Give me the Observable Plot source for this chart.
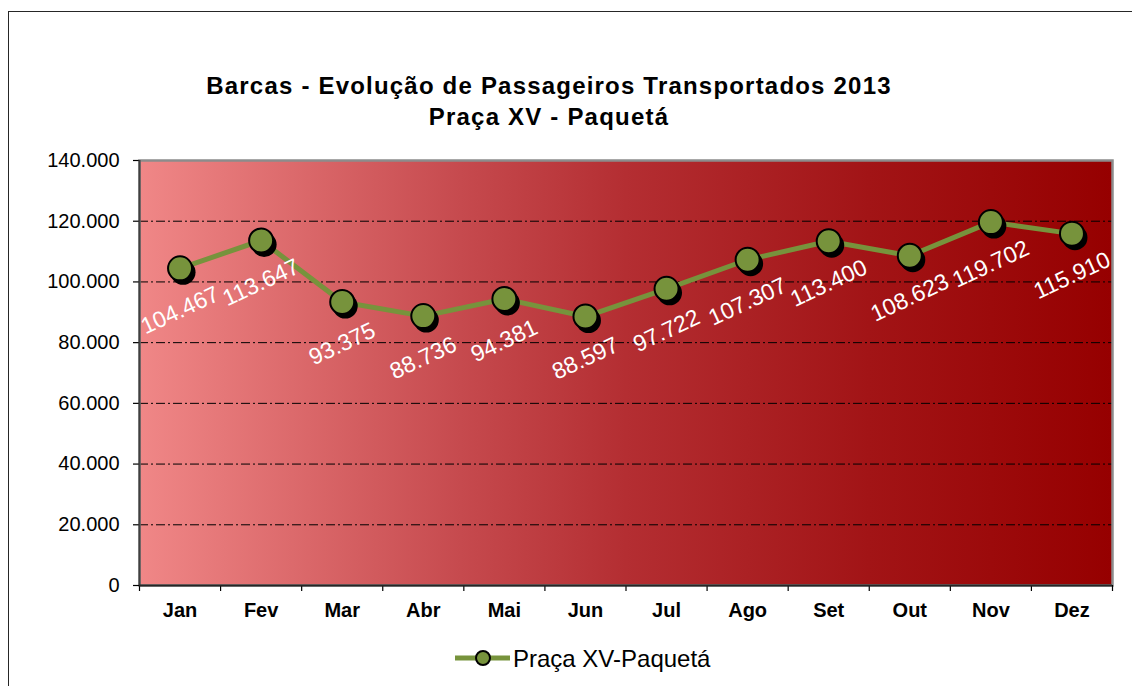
<!DOCTYPE html>
<html><head><meta charset="utf-8">
<script src="https://cdn.jsdelivr.net/npm/d3@7"></script>
<script src="https://cdn.jsdelivr.net/npm/@observablehq/plot@0.6"></script>
<style>
body{margin:0;overflow:hidden;background:#fff;font-family:"Liberation Sans",Arial,sans-serif;}
#wrap{position:relative;width:1132px;height:686px;overflow:hidden;}
#border{position:absolute;left:8px;top:11px;width:1300px;height:900px;border:1px solid #262626;}
#title{position:absolute;left:0;width:1098px;top:70px;text-align:center;font-weight:bold;font-size:24px;letter-spacing:1.2px;line-height:31px;color:#000;}
#chart{position:absolute;left:0;top:140px;}
#legend{position:absolute;left:0;top:640px;}
</style></head><body>
<div id="wrap"><div id="border"></div>
<div id="title">Barcas - Evolução de Passageiros Transportados 2013<br>Praça XV - Paquetá</div>
<div id="chart"></div><div id="legend"></div></div>
<script>
const months = ["Jan","Fev","Mar","Abr","Mai","Jun","Jul","Ago","Set","Out","Nov","Dez"];
const values = [104467,113647,93375,88736,94381,88597,97722,107307,113400,108623,119702,115910];
const yTicks = [0,20000,40000,60000,80000,100000,120000,140000];
const gridTicks = [20000,40000,60000,80000,100000,120000];
const seriesName = "Praça XV-Paquetá";

const data = months.map((m,i)=>({m, x:i+0.5, v:values[i]}));
const fmt = d => d === 0 ? "0" : d3.format(",")(d).replace(/,/g,".");
const green = "#77933C";
const font = '"Liberation Sans", Arial, sans-serif';

const chart = Plot.plot({
  width:1132, height:500,
  marginLeft:139, marginRight:20, marginTop:20, marginBottom:55,
  x:{type:"linear", domain:[0,12]},
  y:{domain:[0,140000]},
  style:{fontFamily:font, background:"transparent", overflow:"visible", color:"#000"},
  marks:[
    Plot.frame({fill:"url(#bgGrad)", stroke:null}),
    Plot.ruleY(gridTicks,{stroke:"#000", strokeDasharray:"9,3,2,3", strokeWidth:1}),
    Plot.frame({stroke:"#8c8c8c", strokeWidth:2.5}),
    Plot.axisY({ticks:yTicks, tickFormat:fmt, tickSize:6, tickPadding:14, fontSize:20, label:null, strokeWidth:1.2}),
    Plot.axisX({ticks:d3.range(13), tickFormat:()=>"", tickSize:6, label:null, strokeWidth:1.2}),
    Plot.ruleX([0],{stroke:"#404040", strokeWidth:2}),
    Plot.ruleY([0],{stroke:"#262626", strokeWidth:2}),
    Plot.text(data,{x:"x", text:"m", frameAnchor:"bottom", dy:31, fontWeight:"bold", fontSize:20, fill:"#000"}),
    Plot.line(data,{x:"x", y:"v", stroke:green, strokeWidth:5}),
    Plot.dot(data,{x:"x", y:"v", r:12.5, fill:"#000", stroke:"none", dx:3, dy:4}),
    Plot.dot(data,{x:"x", y:"v", r:12, fill:green, stroke:"#000", strokeWidth:2}),
    Plot.text(data,{x:"x", y:"v", text:d=>fmt(d.v), rotate:-25, dy:42, fill:"#fff", fontSize:23})
  ]
});

const defs = d3.select(chart).insert("defs",":first-child");
const grad = defs.append("linearGradient").attr("id","bgGrad").attr("x1","0").attr("x2","1").attr("y1","0").attr("y2","0");
[[0,"rgb(240,135,135)"],[0.33,"rgb(198,74,78)"],[0.5,"rgb(180,46,50)"],[0.75,"rgb(162,20,22)"],[1,"rgb(150,0,0)"]]
  .forEach(([o,c])=>grad.append("stop").attr("offset",o).attr("stop-color",c));
document.getElementById("chart").appendChild(chart);

const lg = d3.select("#legend").append("svg").attr("width",1132).attr("height",46);
lg.append("line").attr("x1",455).attr("x2",510).attr("y1",18).attr("y2",18).attr("stroke",green).attr("stroke-width",5);
lg.append("circle").attr("cx",483).attr("cy",18).attr("r",7).attr("fill",green).attr("stroke","#000").attr("stroke-width",2);
lg.append("text").attr("x",513).attr("y",26.5).attr("font-family",font).attr("font-size",24).attr("fill","#000").text(seriesName);
</script></body></html>
